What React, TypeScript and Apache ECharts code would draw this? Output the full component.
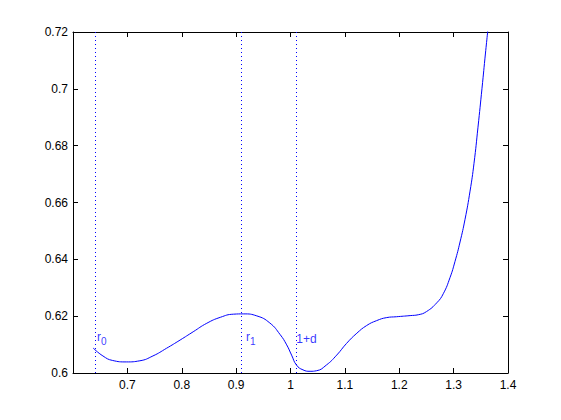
import React, { useEffect, useRef } from 'react';
import * as echarts from 'echarts';

// curve samples
const curveX = [
  0.637, 0.655, 0.673, 0.698, 0.723, 0.747, 0.772, 0.797, 0.821, 0.846,
  0.871, 0.895, 0.914, 0.938, 0.962, 0.981, 0.993, 1.002, 1.011, 1.023,
  1.036, 1.048, 1.066, 1.085, 1.103, 1.122, 1.14, 1.158, 1.177, 1.195,
  1.22, 1.235, 1.25, 1.269, 1.281, 1.2934, 1.3026, 1.3118, 1.321, 1.3302,
  1.3375, 1.3448, 1.3522, 1.3586, 1.3641,
];
const curveY = [
  0.6088, 0.606, 0.6044, 0.6039, 0.6043, 0.606, 0.6087, 0.6116, 0.6145, 0.6175,
  0.6196, 0.6207, 0.6208, 0.6201, 0.6176, 0.6135, 0.6099, 0.6063, 0.6028, 0.6011,
  0.6006, 0.6008, 0.6028, 0.6063, 0.6104, 0.614, 0.6167, 0.6184, 0.6195, 0.6198,
  0.6202, 0.6205, 0.6216, 0.6247, 0.6279, 0.6336, 0.6393, 0.6461, 0.6541, 0.664,
  0.6738, 0.6865, 0.7002, 0.7126, 0.7228,
];

// vertical dotted markers
const markerX = [0.637, 0.911, 1.007];
const markerMain = ['r', 'r', '1+d'];
const markerSub = ['0', '1', ''];
const markerLabelY = [0.6126, 0.6126, 0.6118];

// axes
const xMin = 0.6;
const xMax = 1.4;
const xStep = 0.1;
const yMin = 0.6;
const yMax = 0.72;
const yStep = 0.02;

const FONT = 'Liberation Sans, Arial, Helvetica, sans-serif';
const BLUE = '#0000ff';

export default function App() {
  const ref = useRef<HTMLDivElement>(null);
  useEffect(() => {
    const chart = echarts.init(ref.current!, null, { renderer: 'svg' });
    const axisLine = { show: true, onZero: false, lineStyle: { color: '#000', width: 1 } };
    const axisTick = { show: true, inside: true, length: 5, lineStyle: { color: '#000', width: 1 } };
    chart.setOption({
      animation: false,
      backgroundColor: '#fff',
      grid: { left: 73, right: 53, top: 32, bottom: 47, containLabel: false },
      xAxis: [
        {
          type: 'value', min: xMin, max: xMax, interval: xStep, position: 'bottom',
          axisLine, axisTick, splitLine: { show: false },
          axisLabel: {
            color: '#000', fontFamily: FONT, fontSize: 12, margin: 6,
            formatter: (v: number) => (v < xMin + 1e-6 ? '' : String(Math.round(v * 10) / 10)),
          },
        },
        {
          type: 'value', min: xMin, max: xMax, interval: xStep, position: 'top',
          axisLine, axisTick, splitLine: { show: false }, axisLabel: { show: false },
        },
      ],
      yAxis: [
        {
          type: 'value', min: yMin, max: yMax, interval: yStep, position: 'left',
          axisLine, axisTick, splitLine: { show: false },
          axisLabel: {
            color: '#000', fontFamily: FONT, fontSize: 12, margin: 5,
            formatter: (v: number) => String(Math.round(v * 100) / 100),
          },
        },
        {
          type: 'value', min: yMin, max: yMax, interval: yStep, position: 'right',
          axisLine, axisTick, splitLine: { show: false }, axisLabel: { show: false },
        },
      ],
      series: [
        {
          type: 'line',
          data: curveX.map((x, i) => [x, curveY[i]]),
          showSymbol: false,
          symbol: 'none',
          smooth: 0.5,
          clip: true,
          silent: true,
          lineStyle: { color: BLUE, width: 1 },
          markLine: {
            silent: true,
            symbol: 'none',
            label: { show: false },
            lineStyle: { color: BLUE, width: 1, type: [1, 3] },
            data: markerX.map((x) => ({ xAxis: x })),
          },
        },
        {
          type: 'scatter',
          silent: true,
          symbolSize: 0,
          data: markerX.map((x, i) => ({
            value: [x, markerLabelY[i]],
            name: String(i),
            label: { distance: markerSub[i] ? 4 : 2 },
          })),
          label: {
            show: true,
            position: 'right',
            distance: 3,
            color: BLUE,
            fontFamily: FONT,
            formatter: (p: any) => {
              const i = Number(p.name);
              return markerSub[i] ? `{m|${markerMain[i]}}{s|${markerSub[i]}}` : `{m|${markerMain[i]}}`;
            },
            rich: {
              m: { fontSize: 12, fontFamily: FONT, color: BLUE },
              s: { fontSize: 10, fontFamily: FONT, color: BLUE, padding: [8, 0, 0, 0] },
            },
          },
        },
      ],
    });
    return () => chart.dispose();
  }, []);
  return (
    <div
      ref={ref}
      style={{ position: 'fixed', left: 0, top: 0, width: 561, height: 420, background: '#fff' }}
    />
  );
}
